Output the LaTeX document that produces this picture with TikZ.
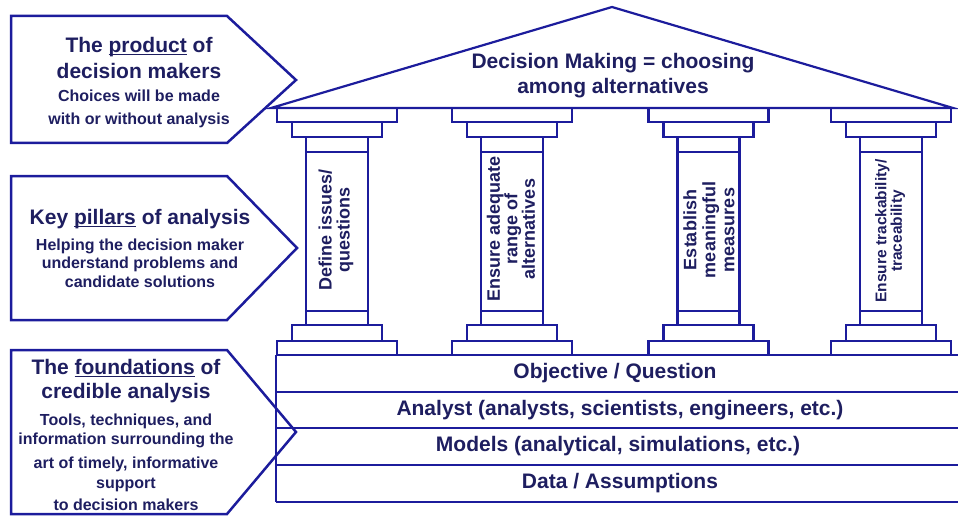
\documentclass[tikz,border=0pt]{standalone}
\usepackage{fontspec}
\setmainfont{Liberation Sans}
\definecolor{templeblue}{RGB}{28,28,156}
\definecolor{labelnavy}{RGB}{30,30,96}
\newcommand{\undl}[1]{\underline{\smash{#1}}}
\newcommand{\fsz}[2]{\fontsize{#1}{#2}\selectfont}
\tikzset{
  outline/.style={draw=templeblue, line width=2.5pt, line join=miter},
  txt/.style={text=labelnavy, font=\bfseries, align=center, inner sep=0pt},
  pillartxt/.style={txt, rotate=90}
}

\begin{document}
\begin{tikzpicture}[x=1pt, y=-1pt]
        \useasboundingbox (0, 0) rectangle (958, 516);
        % left arrow boxes
        \draw[outline] (11, 16) -- (227, 16) -- (296, 80) -- (227, 143) -- (11, 143) -- cycle;
        \draw[outline] (11, 176) -- (227, 176) -- (297, 248) -- (227, 320) -- (11, 320) -- cycle;
        \draw[outline] (11, 350) -- (227, 350) -- (296, 432) -- (227, 514) -- (11, 514) -- cycle;
        \node[txt, font=\bfseries\fsz{21}{26}] (producttitle) at (139, 58) {The \undl{product} of\\decision makers};
        \node[txt, font=\bfseries\fsz{16}{23}] (productsub) at (139, 108.5) {Choices will be made\\with or without analysis};
        \node[txt, font=\bfseries\fsz{21}{26}] (pillarstitle) at (140, 219) {Key \undl{pillars} of analysis};
        \node[txt, font=\bfseries\fsz{16}{18.5}] (pillarssub) at (140, 263) {Helping the decision maker\\understand problems and\\candidate solutions};
        \node[txt, font=\bfseries\fsz{21}{24}] (foundtitle) at (126, 381) {The \undl{foundations} of\\credible analysis};
        \node[txt, font=\bfseries\fsz{16}{19}] (foundsub) at (126, 462) {Tools, techniques, and\\information surrounding the\\[5pt]art of timely, informative\\[1pt]support\\[3pt]to decision makers};
        % roof
        \draw[outline, line width=2.2pt] (271, 108) -- (612, 7) -- (953, 108) -- cycle;
        \node[txt, font=\bfseries\fsz{21}{25}] (roof) at (613, 75.5) {Decision Making = choosing\\among alternatives};
        % pillars
        \foreach \cx in {337, 512, 708.5, 891} {
          \draw[outline] (\cx-60, 108) rectangle (\cx+60, 122);
          \draw[outline] (\cx-45, 122) rectangle (\cx+45, 137);
          \draw[outline] (\cx-31, 137) rectangle (\cx+31, 325);
          \draw[outline] (\cx-31, 152) -- (\cx+31, 152);
          \draw[outline] (\cx-31, 311) -- (\cx+31, 311);
          \draw[outline] (\cx-45, 325) rectangle (\cx+45, 341);
          \draw[outline] (\cx-60, 341) rectangle (\cx+60, 355);
        }
        \node[pillartxt, font=\bfseries\fsz{18}{18}] (define) at (336, 230) {Define issues/\\questions};
        \node[pillartxt, font=\bfseries\fsz{18}{17.5}] (ensure) at (511, 229) {Ensure adequate\\range of\\alternatives};
        \node[pillartxt, font=\bfseries\fsz{18}{19}] (establish) at (709, 230) {Establish\\meaningful\\measures};
        \node[pillartxt, font=\bfseries\fsz{15.5}{15.5}] (track) at (890, 231) {Ensure trackability/\\traceability};
        % foundation rows
        \draw[outline] (276, 355) -- (276, 502);
        \foreach \ry in {355, 392, 428, 465, 502} {
          \draw[outline] (276, \ry) -- (958, \ry);
        }
        \node[txt, font=\bfseries\fsz{21}{25}] (objective) at (615, 373.5) {Objective / Question};
        \node[txt, font=\bfseries\fsz{21}{25}] (analyst) at (620, 410) {Analyst (analysts, scientists, engineers, etc.)};
        \node[txt, font=\bfseries\fsz{21}{25}] (models) at (618, 446.5) {Models (analytical, simulations, etc.)};
        \node[txt, font=\bfseries\fsz{21}{25}] (data) at (620, 483.5) {Data / Assumptions};
    \end{tikzpicture}
\end{document}
